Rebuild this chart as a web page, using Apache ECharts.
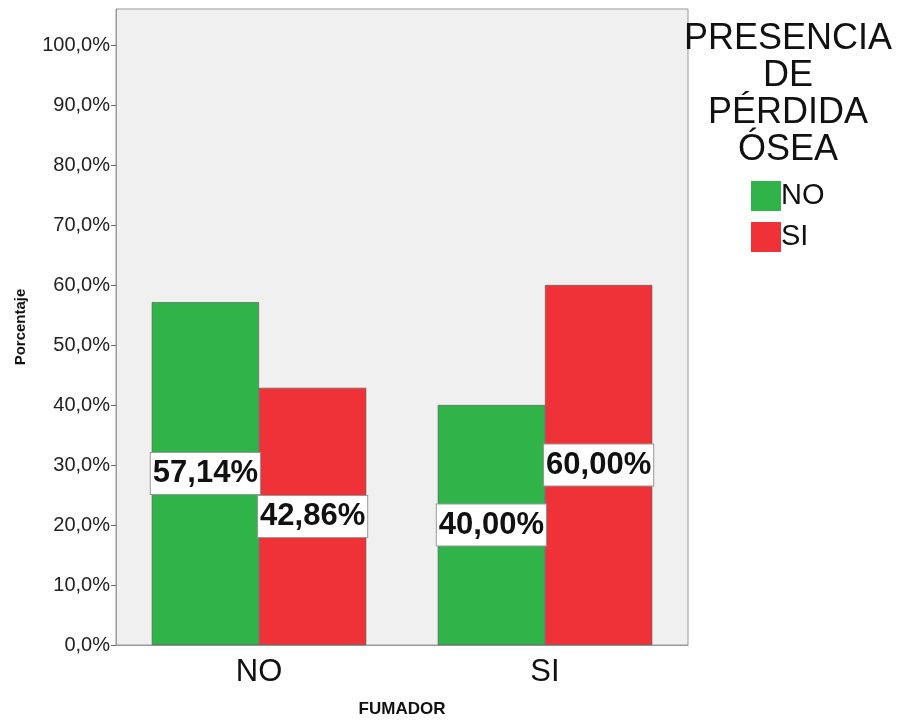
<!DOCTYPE html>
<html>
<head>
<meta charset="utf-8">
<script src="https://cdn.jsdelivr.net/npm/echarts@6/dist/echarts.min.js"></script>
<style>
  html, body { margin: 0; padding: 0; background: #fff; }
  #chart { width: 898px; height: 724px; }
</style>
</head>
<body>
<div id="chart"></div>
<script>
// datos
const categorias = ['NO', 'SI']
const serieNo = [57.14, 40.00]
const serieSi = [42.86, 60.00]
const ticksY = [0, 10, 20, 30, 40, 50, 60, 70, 80, 90, 100]

const fmt = v => v.toFixed(2).replace('.', ',') + '%'

let labelBox = {
  show: true,
  position: 'inside',
  formatter: p => fmt(p.value),
  fontFamily: 'Liberation Sans, Arial, sans-serif',
  fontWeight: 'bold',
  fontSize: 31,
  color: '#111',
  backgroundColor: '#fff',
  borderColor: '#999',
  borderWidth: 1,
  padding: [6, 2, 4, 2]
}

let myChart = echarts.init(document.getElementById('chart'))
let option = {
  animation: false,
  textStyle: { fontFamily: 'Liberation Sans, Arial, sans-serif' },
  title: {
    text: 'PRESENCIA\nDE\nPÉRDIDA\nÓSEA',
    left: 783,
    top: 16,
    textAlign: 'center',
    textStyle: {
      fontFamily: 'Liberation Sans, Arial, sans-serif',
      fontSize: 36,
      fontWeight: 'normal',
      color: '#111',
      lineHeight: 37,
      align: 'center'
    }
  },
  legend: {
    orient: 'vertical',
    left: 746,
    top: 176,
    itemWidth: 30,
    itemHeight: 30,
    itemGap: 11,
    icon: 'rect',
    data: ['NO', 'SI'],
    itemStyle: { borderWidth: 0 },
    textStyle: { fontSize: 29, color: '#111', padding: [2, 0, 0, -5] }
  },
  grid: {
    left: 116,
    right: 210,
    top: 9,
    bottom: 79,
    outerBoundsMode: 'none',
    show: true,
    backgroundColor: '#f0f0f0',
    borderColor: '#999',
    borderWidth: 1
  },
  xAxis: {
    type: 'category',
    data: categorias,
    name: 'FUMADOR',
    nameLocation: 'middle',
    nameGap: 56,
    nameTextStyle: { fontSize: 17, fontWeight: 'bold', color: '#111' },
    axisLine: { lineStyle: { color: '#999' } },
    axisTick: { alignWithLabel: true, length: 5, lineStyle: { color: '#666' } },
    axisLabel: { fontSize: 31, color: '#111', margin: 12 }
  },
  yAxis: {
    type: 'value',
    min: 0,
    max: 106,
    interval: 10,
    name: 'Porcentaje',
    nameLocation: 'middle',
    nameGap: 88,
    nameTextStyle: { fontSize: 15, fontWeight: 'bold', color: '#111' },
    splitLine: { show: false },
    axisLine: { show: true, lineStyle: { color: '#999' } },
    axisTick: { show: true, length: 5, customValues: ticksY, lineStyle: { color: '#666' } },
    axisLabel: {
      customValues: ticksY,
      formatter: v => v.toFixed(1).replace('.', ',') + '%',
      fontSize: 20,
      color: '#222',
      margin: 6
    }
  },
  series: [
    {
      name: 'NO',
      type: 'bar',
      data: serieNo,
      barGap: '0%',
      barCategoryGap: '25%',
      itemStyle: { color: '#30b44a', borderColor: '#555', borderWidth: 0.6 },
      label: labelBox
    },
    {
      name: 'SI',
      type: 'bar',
      data: serieSi,
      itemStyle: { color: '#ee3237', borderColor: '#555', borderWidth: 0.6 },
      label: labelBox
    }
  ]
}
myChart.setOption(option)
</script>
</body>
</html>
